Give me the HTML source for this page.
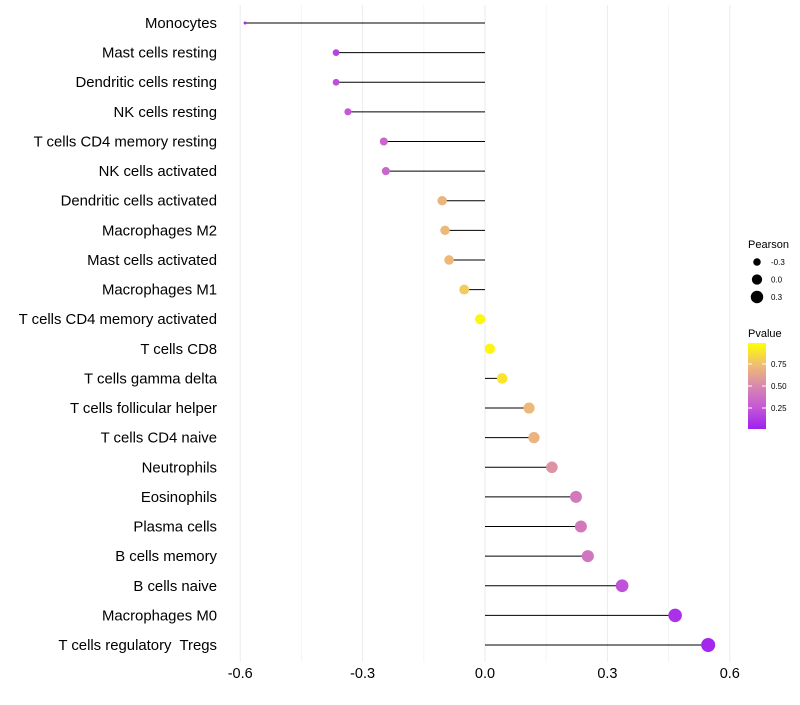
<!DOCTYPE html>
<html><head><meta charset="utf-8"><style>
body{margin:0;background:#fff;font-family:"Liberation Sans",sans-serif}
svg text{font-family:"Liberation Sans",sans-serif;white-space:pre}
</style></head><body>
<svg id="chart" width="800" height="700"></svg>
<script>
const categories=["Monocytes","Mast cells resting","Dendritic cells resting","NK cells resting","T cells CD4 memory resting","NK cells activated","Dendritic cells activated","Macrophages M2","Mast cells activated","Macrophages M1","T cells CD4 memory activated","T cells CD8","T cells gamma delta","T cells follicular helper","T cells CD4 naive","Neutrophils","Eosinophils","Plasma cells","B cells memory","B cells naive","Macrophages M0","T cells regulatory  Tregs"];
const pearson=[-0.588,-0.365,-0.365,-0.336,-0.248,-0.243,-0.105,-0.098,-0.088,-0.051,-0.012,0.012,0.042,0.108,0.120,0.164,0.223,0.235,0.252,0.336,0.466,0.547];
const pvalue=[0.05,0.15,0.2,0.25,0.32,0.32,0.7,0.72,0.72,0.8,0.97,0.96,0.9,0.72,0.7,0.55,0.42,0.42,0.4,0.22,0.07,0.03];
const xTicks=[-0.6,-0.3,0.0,0.3,0.6];
const xTickLabels=["-0.6","-0.3","0.0","0.3","0.6"];
const legendSizes=[-0.3,0.0,0.3];
const legendSizeLabels=["-0.3","0.0","0.3"];
const colorTicks=[0.25,0.5,0.75];
const colorTickLabels=["0.25","0.50","0.75"];

const NS="http://www.w3.org/2000/svg";
const svg=document.getElementById('chart');
function el(t,a,p){const e=document.createElementNS(NS,t);for(const k in a)e.setAttribute(k,a[k]);(p||svg).appendChild(e);return e;}
const xScale=v=>485+v*408;
const yScale=i=>23+i*(645-23)/(categories.length-1);
const rScale=v=>Math.sqrt(Math.max(1,26.5+41.2*v));
function lerp(a,b,t){return Math.round(a+(b-a)*t);}
const stops=[[0,[160,32,240]],[0.25,[196,88,214]],[0.5,[216,136,176]],[0.75,[240,190,112]],[1,[255,255,0]]];
function color(p){for(let i=1;i<stops.length;i++){if(p<=stops[i][0]){const [a,ca]=stops[i-1],[b,cb]=stops[i];const t=(p-a)/(b-a);return `rgb(${lerp(ca[0],cb[0],t)},${lerp(ca[1],cb[1],t)},${lerp(ca[2],cb[2],t)})`;}}return 'rgb(255,255,0)';}

for(let k=0;k<xTicks.length-1;k++){
  const m=el('line',{x1:xScale((xTicks[k]+xTicks[k+1])/2),x2:xScale((xTicks[k]+xTicks[k+1])/2),y1:5,y2:662,stroke:'#f4f4f4','stroke-width':1});
  
  
}
xTicks.forEach((t,i)=>{
  const g=el('line',{x1:xScale(t),x2:xScale(t),y1:5,y2:662,stroke:'#ebebeb','stroke-width':1});
  
  
  const tx=el('text',{x:xScale(t),y:678,'text-anchor':'middle','font-size':14.5,fill:'#000'});
  tx.textContent=xTickLabels[i];
  
  
});
categories.forEach((c,i)=>{
  const y=yScale(i);
  const lb=el('text',{x:217,y:y+5,'text-anchor':'end','font-size':14.9,fill:'#000'});
  lb.textContent=c;
  
  
  const ln=el('line',{x1:xScale(0),x2:xScale(pearson[i]),y1:y,y2:y,stroke:'#000','stroke-width':1});
  
  
  const pt=el('circle',{cx:xScale(pearson[i]),cy:y,r:rScale(pearson[i]),fill:color(pvalue[i])});
  
  
});
const st=el('text',{x:748,y:248,'font-size':11,fill:'#000'});st.textContent='Pearson';


legendSizes.forEach((v,i)=>{
  const y=262+i*17.5;
  const c=el('circle',{cx:757,cy:y,r:rScale(v),fill:'#000'});
  
  
  const t=el('text',{x:771,y:y+3,'font-size':8,fill:'#000'});t.textContent=legendSizeLabels[i];
  
  
});
const ct=el('text',{x:748,y:337,'font-size':11,fill:'#000'});ct.textContent='Pvalue';


const defs=el('defs',{});
const lg=el('linearGradient',{id:'pg',x1:0,y1:1,x2:0,y2:0},defs);
stops.forEach(s=>el('stop',{offset:s[0],'stop-color':`rgb(${s[1].join(',')})`},lg));
const bar=el('rect',{x:748,y:343,width:18,height:86,fill:'url(#pg)'});


const pY=p=>430-p*88;
colorTicks.forEach((p,i)=>{
  el('line',{x1:748,x2:752,y1:pY(p),y2:pY(p),stroke:'#fff'});
  el('line',{x1:762,x2:766,y1:pY(p),y2:pY(p),stroke:'#fff'});
  const t=el('text',{x:771,y:pY(p)+3,'font-size':8,fill:'#000'});t.textContent=colorTickLabels[i];
  
  
});
</script>
</body></html>
